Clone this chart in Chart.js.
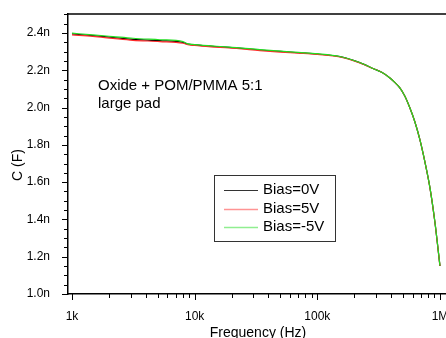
<!DOCTYPE html>
<html>
<head>
<meta charset="utf-8">
<script src="https://cdn.jsdelivr.net/npm/chart.js@4"></script>
<style>
  html, body { margin: 0; padding: 0; background: #fff; overflow: hidden; }
  canvas { display: block; }
</style>
</head>
<body>
<canvas id="myChart" width="446" height="338"></canvas>
<script>
// frequency in Hz, capacitance in nF
const freqHz = [1000, 1480, 2160, 3140, 5210, 8030, 8800, 10000, 15000, 22000, 34000, 50000, 70000,
    100000, 153000, 222000, 284000, 335000, 391000, 428000, 471000, 518000, 568000, 624000, 686000, 753000,
    828000, 908000, 1000000];
const bias0V = [2.395, 2.386, 2.376, 2.366, 2.359, 2.349, 2.340, 2.336, 2.327, 2.320, 2.309, 2.301, 2.294,
    2.287, 2.273, 2.241, 2.210, 2.189, 2.159, 2.135, 2.106, 2.061, 1.999, 1.924, 1.828, 1.710,
    1.571, 1.389, 1.150];
const bias5V = [2.390, 2.382, 2.371, 2.361, 2.354, 2.345, 2.338, 2.333, 2.324, 2.317, 2.306, 2.298, 2.292,
    2.285, 2.272, 2.240, 2.210, 2.189, 2.159, 2.135, 2.106, 2.061, 1.999, 1.924, 1.828, 1.710,
    1.571, 1.389, 1.150];
const biasNeg5V = [2.399, 2.390, 2.381, 2.372, 2.364, 2.354, 2.342, 2.338, 2.329, 2.322, 2.311, 2.303, 2.296,
    2.289, 2.274, 2.242, 2.210, 2.189, 2.159, 2.135, 2.106, 2.061, 1.999, 1.924, 1.828, 1.710,
    1.572, 1.390, 1.152];

const seriesNames = ['Bias=0V', 'Bias=5V', 'Bias=-5V'];
const seriesColors = ['#000000', '#ff2a2a', '#22dd22'];

const xTickValues = [1e3, 1e4, 1e5, 1e6];
const xTickLabels = ['1k', '10k', '100k', '1M'];
const yTickValues = [1.0, 1.2, 1.4, 1.6, 1.8, 2.0, 2.2, 2.4];

const noteLines = ['Oxide + POM/PMMA 5:1', 'large pad'];
const xTitle = 'Frequency (Hz)';
const yTitle = 'C (F)';

const FONT = 'Liberation Sans, Arial, sans-serif';

function points(vals) {
    return freqHz.map((f, i) => ({x: f, y: vals[i]}));
}

// tick marks, top frame, axis titles, note and legend box
const decorations = {
    id: 'decorations',
    afterDraw(chart) {
        const c = chart.ctx;
        const area = chart.chartArea;
        const xs = chart.scales.x;
        const ys = chart.scales.y;
        c.save();
        c.strokeStyle = '#000';
        c.lineWidth = 1.5;
        c.beginPath();
        c.moveTo(area.left, area.top);
        c.lineTo(area.right, area.top);
        c.stroke();

        c.lineWidth = 1;
        c.beginPath();
        for (let d = 2; d <= 6; d++) {
            for (let k = 1; k <= 9; k++) {
                const v = k * Math.pow(10, d);
                if (v < xs.min || v > xs.max) continue;
                const px = Math.round(xs.getPixelForValue(v)) + 0.5;
                const len = k === 1 ? 6 : 4;
                c.moveTo(px, area.bottom);
                c.lineTo(px, area.bottom + len);
            }
        }
        for (let i = 0; i <= 30; i++) {
            const v = 1.0 + i * 0.05;
            if (v > ys.max) break;
            const py = Math.round(ys.getPixelForValue(v)) + 0.5;
            const len = i % 4 === 0 ? 6 : 4;
            c.moveTo(area.left, py);
            c.lineTo(area.left - len, py);
        }
        c.stroke();

        c.fillStyle = '#000';
        c.font = '14px ' + FONT;
        c.textAlign = 'center';
        c.textBaseline = 'middle';
        c.fillText(xTitle, 258, 333);
        c.save();
        c.translate(18, 165);
        c.rotate(-Math.PI / 2);
        c.fillText(yTitle, 0, 0);
        c.restore();

        c.font = '15px ' + FONT;
        c.textAlign = 'left';
        noteLines.forEach((t, i) => c.fillText(t, 98, 86 + i * 18));

        // legend
        c.strokeStyle = '#333';
        c.lineWidth = 1;
        c.strokeRect(214.5, 175.5, 121, 66);
        seriesNames.forEach((name, i) => {
            const y = 190 + i * 18.5;
            c.strokeStyle = seriesColors[i];
            c.globalAlpha = i === 0 ? 0.8 : 0.5;
            c.lineWidth = i === 0 ? 1 : 1.5;
            c.beginPath();
            c.moveTo(224, Math.round(y) + 0.5);
            c.lineTo(258, Math.round(y) + 0.5);
            c.stroke();
            c.globalAlpha = 1;
            c.fillText(name, 263, y);
        });
        c.restore();
    }
};

const ctx = document.getElementById('myChart').getContext('2d');

const myChart = new Chart(ctx, {
    type: 'line',
    data: {
        datasets: [
            {label: seriesNames[0], data: points(bias0V), borderColor: seriesColors[0], order: 2},
            {label: seriesNames[1], data: points(bias5V), borderColor: seriesColors[1], order: 1},
            {label: seriesNames[2], data: points(biasNeg5V), borderColor: seriesColors[2], order: 0}
        ]
    },
    options: {
        responsive: false,
        devicePixelRatio: 1,
        animation: false,
        layout: {padding: {top: 14, right: 0, left: 0, bottom: 0}},
        elements: {
            point: {radius: 0},
            line: {borderWidth: 1.2, cubicInterpolationMode: 'monotone', fill: false}
        },
        plugins: {legend: {display: false}, tooltip: {enabled: false}},
        scales: {
            x: {
                type: 'logarithmic',
                min: 928,
                max: 1.12e6,
                grid: {display: false},
                border: {color: '#000', width: 1.5},
                afterBuildTicks: s => { s.ticks = xTickValues.map(v => ({value: v})); },
                afterFit: s => { s.height = 44; s.paddingLeft = 0; s.paddingRight = 0; },
                ticks: {
                    color: '#000',
                    font: {family: FONT, size: 12},
                    padding: 7,
                    maxRotation: 0,
                    autoSkip: false,
                    callback: v => xTickLabels[xTickValues.indexOf(v)]
                }
            },
            y: {
                min: 1.0,
                max: 2.502,
                grid: {display: false},
                border: {color: '#000', width: 1.5},
                afterBuildTicks: s => { s.ticks = yTickValues.map(v => ({value: v})); },
                afterFit: s => { s.width = 68; s.paddingTop = 0; s.paddingBottom = 0; },
                ticks: {
                    color: '#000',
                    font: {family: FONT, size: 12},
                    padding: 10,
                    callback: v => v.toFixed(1) + 'n'
                }
            }
        }
    },
    plugins: [decorations]
});
</script>
</body>
</html>
